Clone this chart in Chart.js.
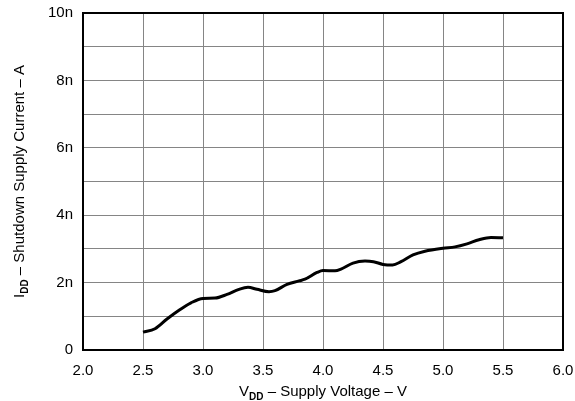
<!DOCTYPE html>
<html>
<head>
<meta charset="utf-8">
<script src="https://cdn.jsdelivr.net/npm/chart.js@4/dist/chart.umd.min.js"></script>
<style>
  html, body { margin: 0; padding: 0; background: #fff; }
  #wrap { width: 575px; height: 401px; }
</style>
</head>
<body>
<div id="wrap"><canvas id="currentChart" width="575" height="401"></canvas></div>
<script>
// supply voltage (V) and shutdown current (nA)
const vdd = [2.5, 2.6, 2.7, 2.8, 2.9, 3.0, 3.1, 3.2, 3.3, 3.375, 3.45, 3.55, 3.6, 3.7, 3.8, 3.85, 3.95, 4.0, 4.1, 4.15, 4.25, 4.35, 4.42, 4.5, 4.58, 4.65, 4.75, 4.85, 5.0, 5.1, 5.2, 5.3, 5.4, 5.5]
const idd = [0.53, 0.63, 0.92, 1.18, 1.40, 1.53, 1.54, 1.65, 1.80, 1.86, 1.80, 1.73, 1.76, 1.95, 2.05, 2.10, 2.30, 2.36, 2.35, 2.40, 2.58, 2.64, 2.62, 2.54, 2.52, 2.62, 2.82, 2.93, 3.02, 3.06, 3.15, 3.27, 3.34, 3.33]

const xTitle = ["V", "DD", " \u2013 Supply Voltage \u2013 V"]
const yTitle = ["I", "DD", " \u2013 Shutdown Supply Current \u2013 A"]

const FONT = "'Liberation Sans', Arial, sans-serif"

// draws a title made of [main, subscript, rest]
function drawSubTitle(ctx, parts, size) {
  const big = size + "px " + FONT
  const sub = "bold " + Math.round(size * 0.68) + "px " + FONT
  ctx.font = big
  const w0 = ctx.measureText(parts[0]).width
  const w2 = ctx.measureText(parts[2]).width
  ctx.font = sub
  const w1 = ctx.measureText(parts[1]).width
  let x = -(w0 + w1 + w2) / 2
  ctx.font = big
  ctx.fillText(parts[0], x, 0)
  x += w0
  ctx.font = sub
  ctx.fillText(parts[1], x, size * 0.25)
  x += w1
  ctx.font = big
  ctx.fillText(parts[2], x, 0)
}

const titlesPlugin = {
  id: "titles",
  afterDraw(c) {
    const ctx = c.ctx
    const area = c.chartArea
    ctx.save()
    ctx.fillStyle = "#000"
    ctx.textBaseline = "alphabetic"
    ctx.textAlign = "left"
    ctx.translate(323, 396)
    drawSubTitle(ctx, xTitle, 15)
    ctx.restore()

    ctx.save()
    ctx.fillStyle = "#000"
    ctx.textBaseline = "alphabetic"
    ctx.textAlign = "left"
    ctx.translate(24, (area.top + area.bottom) / 2)
    ctx.rotate(-Math.PI / 2)
    drawSubTitle(ctx, yTitle, 15)
    ctx.restore()

    // frame
    ctx.save()
    ctx.strokeStyle = "#000"
    ctx.lineWidth = 2
    ctx.strokeRect(area.left, area.top, area.right - area.left, area.bottom - area.top)
    ctx.restore()
  }
}

const points = vdd.map((v, i) => ({ x: v, y: idd[i] }))

new Chart(document.getElementById("currentChart"), {
  type: "line",
  data: {
    datasets: [{
      data: points,
      borderColor: "#000",
      borderWidth: 3,
      pointRadius: 0,
      cubicInterpolationMode: "monotone",
      fill: false
    }]
  },
  options: {
    responsive: false,
    animation: false,
    layout: { padding: { left: 0, right: 12, top: 13, bottom: 0 } },
    plugins: {
      legend: { display: false },
      tooltip: { enabled: false }
    },
    scales: {
      x: {
        type: "linear",
        min: 2,
        max: 6,
        afterFit: s => { s.height = 51; s.paddingLeft = 0; s.paddingRight = 0 },
        border: { display: false },
        grid: { color: "#858585", lineWidth: 1, drawTicks: false },
        ticks: {
          stepSize: 0.5,
          padding: 12,
          color: "#000",
          font: { family: FONT, size: 15 },
          maxRotation: 0,
          callback: v => v.toFixed(1)
        }
      },
      y: {
        min: 0,
        max: 10,
        afterFit: s => { s.width = 83; s.paddingTop = 0; s.paddingBottom = 0 },
        border: { display: false },
        grid: { color: "#858585", lineWidth: 1, drawTicks: false },
        ticks: {
          stepSize: 1,
          padding: 10,
          color: "#000",
          font: { family: FONT, size: 15 },
          autoSkip: false,
          callback: v => (v % 2 !== 0 ? "" : (v === 0 ? "0" : v + "n"))
        }
      }
    }
  },
  plugins: [titlesPlugin]
})
</script>
</body>
</html>
